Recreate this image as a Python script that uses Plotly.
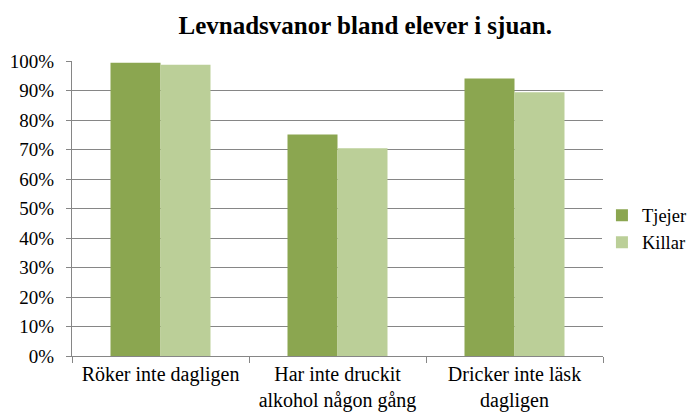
import plotly.graph_objects as go

categories = ["Röker inte dagligen", "Har inte druckit<br>alkohol någon gång", "Dricker inte läsk<br>dagligen"]
tjejer = [0.994, 0.751, 0.941]
killar = [0.987, 0.704, 0.894]
yticks = [i / 10 for i in range(11)]
ytick_labels = [f"{i*10}%" for i in range(11)]

font = "Times New Roman"

fig = go.Figure()
fig.add_trace(go.Bar(x=categories, y=tjejer, name="Tjejer", marker_color="#8BA650", marker_line_width=0))
fig.add_trace(go.Bar(x=categories, y=killar, name="Killar", marker_color="#BBCF98", marker_line_width=0))

fig.update_layout(
    width=691, height=404,
    margin=dict(l=64, r=96, t=53, b=56, autoexpand=False),
    paper_bgcolor="white", plot_bgcolor="white",
    font=dict(family=font, size=19, color="black"),
    title=dict(text="<b>Levnadsvanor bland elever i sjuan.</b>", x=0.517, xanchor="center",
               y=0.958, yanchor="middle", font=dict(size=25, family=font, color="black")),
    barmode="group", bargap=0.435, bargroupgap=0,
    legend=dict(x=0.998, y=0.43, xanchor="left", yanchor="middle",
                font=dict(size=18.5, family=font, color="black"),
                itemwidth=30, tracegroupgap=0, borderwidth=0),
    showlegend=True,
)
fig.update_xaxes(
    showline=True, linecolor="#868686", linewidth=1,
    ticks="outside", tickson="boundaries", ticklen=6, tickcolor="#868686",
    showgrid=False, tickfont=dict(size=20, family=font, color="black"),
    automargin=False,
)
fig.update_yaxes(
    range=[0, 1], tickvals=yticks, ticktext=ytick_labels,
    showline=True, linecolor="#868686", linewidth=1,
    ticks="outside", ticklen=5, tickcolor="#868686", ticklabelstandoff=8,
    showgrid=True, gridcolor="#868686", gridwidth=1, zeroline=False,
    tickfont=dict(size=19, family=font, color="black"),
    automargin=False,
)

fig.write_html("out.html")
